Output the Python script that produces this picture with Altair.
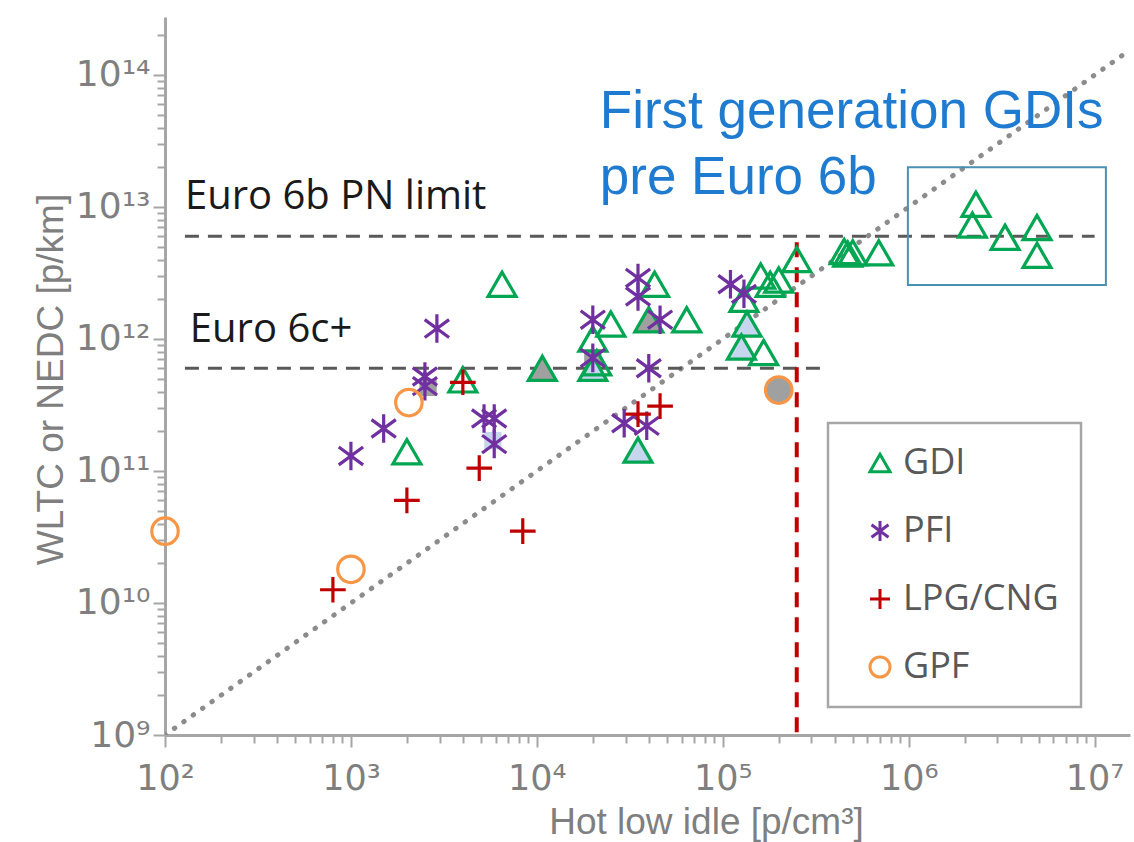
import altair as alt
import pandas as pd

# ---------------- data ----------------
series_names = ["GDI", "PFI", "LPG/CNG", "GPF"]
series_colors = ["#00A651", "#7030A0", "#C00000", "#F79646"]

LB = "#C6D6EE"   # light-blue fill
GR = "#A0A0A0"   # grey fill
NO = "transparent"

gdi_x = [2.0e3, 4.0e3, 6.5e3, 1.07e4, 2.0e4, 2.1e4, 2.0e4, 2.5e4, 4.3e4, 4.0e4, 6.4e4, 3.5e4,
         2.5e5, 1.6e5, 1.8e5, 2.0e5, 1.3e5, 1.35e5, 1.26e5, 1.66e5,
         4.5e5, 4.7e5, 5.0e5, 6.9e5, 2.3e6, 2.2e6, 3.3e6, 4.9e6, 4.9e6]
gdi_y = [1.4e11, 4.9e11, 2.6e12, 6.0e11, 6.0e11, 6.6e11, 1.0e12, 1.3e12, 2.6e12, 1.4e12, 1.4e12, 1.44e11,
         4.0e12, 3.0e12, 2.6e12, 2.8e12, 2.0e12, 1.3e12, 8.7e11, 7.9e11,
         4.6e12, 4.4e12, 4.5e12, 4.5e12, 1.05e13, 7.3e12, 5.9e12, 7.0e12, 4.3e12]
gdi_fill = [NO, NO, NO, GR, LB, NO, NO, NO, NO, GR, NO, LB,
            NO, NO, NO, NO, NO, LB, LB, NO,
            NO, NO, NO, NO, NO, NO, NO, NO, NO]

pfi_x = [1.0e3, 1.5e3, 2.9e3, 2.5e3, 2.5e3, 5.2e3, 5.9e3, 5.9e3, 2.0e4, 2.0e4,
         3.5e4, 3.5e4, 4.6e4, 4.0e4, 2.95e4, 3.9e4, 1.1e5, 1.3e5]
pfi_y = [1.3e11, 2.1e11, 1.2e12, 5.2e11, 4.4e11, 2.5e11, 2.5e11, 1.6e11, 1.4e12, 7.2e11,
         2.9e12, 2.1e12, 1.4e12, 6.0e11, 2.3e11, 2.2e11, 2.6e12, 2.2e12]

lpg_x = [8.0e2, 2.0e3, 4.0e3, 4.9e3, 8.4e3, 3.5e4, 4.6e4]
lpg_y = [1.26e10, 6.0e10, 4.7e11, 1.05e11, 3.5e10, 2.7e11, 3.1e11]

gpf_x = [1.0e2, 1.0e3, 2.05e3, 2.0e5]
gpf_y = [3.5e10, 1.8e10, 3.3e11, 4.1e11]
gpf_fill = [NO, NO, NO, GR]

# partially hidden filled squares behind markers
sq_x = [2.6e3, 2.0e4, 5.8e3]
sq_y = [4.3e11, 7.2e11, 1.7e11]
sq_fill = [GR, GR, LB]

# reference lines
limit_y = [6e12, 6e11]
limit_x0 = [1.28e2, 1.28e2]
limit_x1 = [1.0e7, 3.7e5]

red_x = [2.5e5]
red_y0 = [1.05e9]
red_y1 = [6e12]

diag_x = [1e2, 1.55e7]
diag_y = [1e9, 1.55e14]

box_x0, box_x1 = [9.9e5], [1.15e7]
box_y0, box_y1 = [2.57e12], [2.0e13]

black_text = ["Euro 6b PN limit", "Euro 6c+"]
black_x = [1.28e2, 1.36e2]
black_y = [1.2e13, 1.17e12]

blue_text = ["First generation GDIs", "pre Euro 6b"]
blue_x = [2.18e4, 2.18e4]
blue_y = [5.25e13, 1.66e13]

X_DOMAIN = [1e2, 1.55e7]
Y_DOMAIN = [1e9, 2.75e14]

# ---------------- tables ----------------
sizes = {"GDI": 780, "PFI": 820, "LPG/CNG": 660, "GPF": 700}
rows = []
for name, xs, ys, fs in [("GDI", gdi_x, gdi_y, gdi_fill),
                         ("PFI", pfi_x, pfi_y, [NO] * len(pfi_x)),
                         ("LPG/CNG", lpg_x, lpg_y, [NO] * len(lpg_x)),
                         ("GPF", gpf_x, gpf_y, gpf_fill)]:
    for x, y, f in zip(xs, ys, fs):
        rows.append({"series": name, "x": x, "y": y, "fill": f, "msize": sizes[name]})
pts = pd.DataFrame(rows)
sq = pd.DataFrame({"x": sq_x, "y": sq_y, "fill": sq_fill})
lim = pd.DataFrame({"x": limit_x0, "x2": limit_x1, "y": limit_y})
red = pd.DataFrame({"x": red_x, "y": red_y0, "y2": red_y1})
diag = pd.DataFrame({"x": diag_x, "y": diag_y})
box = pd.DataFrame({"x": box_x0, "x2": box_x1, "y": box_y0, "y2": box_y1})
btxt = pd.DataFrame({"x": black_x, "y": black_y, "t": black_text})
bltxt = pd.DataFrame({"x": blue_x, "y": blue_y, "t": blue_text})

# ---------------- axes ----------------
x_ticks = [m * 10 ** d for d in range(2, 8) for m in range(1, 10) if m * 10 ** d <= X_DOMAIN[1]]
y_ticks = [m * 10 ** d for d in range(9, 15) for m in range(1, 10) if m * 10 ** d <= Y_DOMAIN[1]]

E = "round(log(datum.value)/LN10)"
SUP = "['⁰','¹','²','³','⁴','⁵','⁶','⁷','⁸','⁹']"
MAJOR = f"abs(log(datum.value)/LN10 - {E}) < 0.001"
label_expr = f"{MAJOR} ? '10' + ({E} >= 10 ? {SUP}[floor({E}/10)] : '') + {SUP}[{E} % 10] : ''"
tick_size = {"condition": {"test": MAJOR, "value": 12}, "value": 8}

AX = "#A6A6A6"
LBL = "#7F7F7F"

xaxis = alt.Axis(values=x_ticks, labelExpr=label_expr, tickSize=tick_size, tickColor=AX, tickWidth=2,
                 domainColor=AX, domainWidth=3, grid=False, labelFont="DejaVu Sans", labelFontSize=35,
                 labelColor=LBL, labelPadding=14, labelOverlap=False, labelFlush=False,
                 title="Hot low idle [p/cm³]", titleFont="Liberation Sans", titleFontSize=37,
                 titleFontWeight="normal", titleColor=LBL, titleX=541, titleY=98,
                 titleBaseline="alphabetic", titleAlign="center")
yaxis = alt.Axis(values=y_ticks, labelExpr=label_expr, tickSize=tick_size, tickColor=AX, tickWidth=2,
                 domainColor=AX, domainWidth=3, grid=False, labelFont="DejaVu Sans", labelFontSize=36,
                 labelColor=LBL, labelPadding=3, labelOverlap=False, labelFlush=False,
                 labelBaseline="middle",
                 title="WLTC or NEDC [p/km]", titleFont="Liberation Sans", titleFontSize=37,
                 titleFontWeight="normal", titleColor=LBL, titleX=-103, titleY=362,
                 titleBaseline="alphabetic", titleAlign="center")

xscale = alt.Scale(type="log", domain=X_DOMAIN, nice=False)
yscale = alt.Scale(type="log", domain=Y_DOMAIN, nice=False)


def X(f="x"):
    return alt.X(f, type="quantitative", scale=xscale, axis=xaxis)


def Y(f="y"):
    return alt.Y(f, type="quantitative", scale=yscale, axis=yaxis)


diag_layer = alt.Chart(diag).mark_line(strokeDash=[0.5, 11], strokeWidth=5, strokeCap="round",
                                       color="#8C8C8C", clip=True).encode(x=X(), y=Y())
lim_layer = alt.Chart(lim).mark_rule(strokeDash=[14, 9], strokeWidth=3, color="#595959").encode(
    x=X(), x2="x2", y=Y())
red_layer = alt.Chart(red).mark_rule(strokeDash=[15, 10], strokeWidth=4, color="#C00000").encode(
    x=X(), y=Y(), y2="y2")
box_layer = alt.Chart(box).mark_rect(fillOpacity=0, stroke="#4A90B4", strokeWidth=2).encode(
    x=X(), x2="x2", y=Y(), y2="y2")
sq_layer = alt.Chart(sq).mark_square(size=300, opacity=1).encode(
    x=X(), y=Y(), color=alt.Color("fill:N", scale=None))

pt_layer = alt.Chart(pts).mark_point(filled=False, strokeWidth=3.2, opacity=1).encode(
    x=X(), y=Y(),
    color=alt.Color("series:N", scale=alt.Scale(domain=series_names, range=series_colors),
                    legend=alt.Legend(title=None, orient="none", legendX=663, legendY=406,
                                      strokeColor="#A6A6A6", fillColor="white", padding=22,
                                      symbolOffset=12, labelFont="Open Sans", labelFontSize=36,
                                      labelColor="#595959", symbolSize=400, symbolStrokeWidth=3,
                                      symbolFillColor="transparent", rowPadding=32, labelOffset=5)),
    shape=alt.Shape("series:N", scale=alt.Scale(
        domain=series_names,
        range=["triangle-up",
               "M0,-1L0,1M-0.85,-0.62L0.85,0.62M-0.85,0.62L0.85,-0.62",
               "M-1,0L1,0M0,-1L0,1",
               "circle"]), legend=alt.Legend(title=None)),
    fill=alt.Fill("fill:N", scale=None),
    size=alt.Size("msize:Q", scale=None),
)

btxt_layer = alt.Chart(btxt).mark_text(align="left", baseline="middle", font="Open Sans", fontSize=40,
                                       color="#1A1A1A").encode(x=X(), y=Y(), text="t:N")
bltxt_layer = alt.Chart(bltxt).mark_text(align="left", baseline="middle", font="Liberation Sans",
                                         fontSize=53, color="#1F7BD0").encode(x=X(), y=Y(), text="t:N")

chart = alt.layer(diag_layer, lim_layer, red_layer, box_layer, sq_layer, pt_layer, btxt_layer,
                  bltxt_layer).properties(
    width=965, height=718,
    padding={"left": 165, "top": 17, "right": 4, "bottom": 107},
    autosize=alt.AutoSizeParams(type="none"),
).configure_view(stroke=None).configure_legend(strokeWidth=2.5)

chart.save("out.html", embed_options={"renderer": "svg", "actions": False})
